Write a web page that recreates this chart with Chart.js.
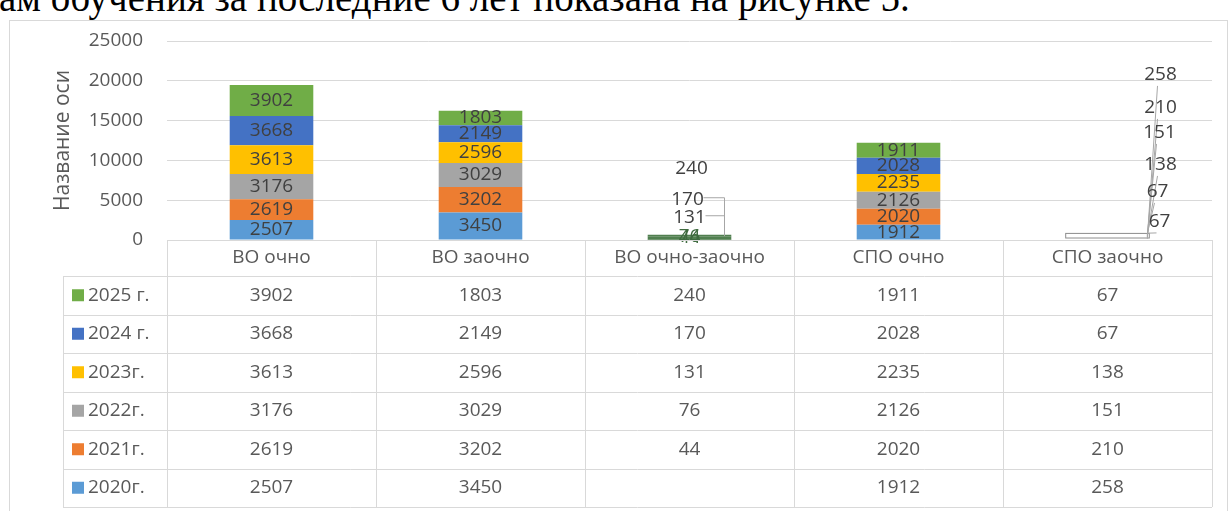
<!DOCTYPE html>
<html lang="ru">
<head>
<meta charset="utf-8">
<title>Контингент по формам обучения</title>
<script src="https://cdn.jsdelivr.net/npm/chart.js@4.4.1/dist/chart.umd.min.js"></script>
<style>
  html, body { margin: 0; padding: 0; background: #fff; }
  body { width: 1232px; height: 511px; position: relative; overflow: hidden; }
  .caption { position: absolute; left: -1px; top: -22px; line-height: 39px; font-family: "Liberation Serif", "Times New Roman", serif; font-size: 39px; color: #000; white-space: nowrap; }
  .frame { position: absolute; left: 9px; top: 20px; width: 1219px; height: 520px; border: 1px solid #d9d9d9; box-sizing: border-box; }
  #wrap { position: absolute; left: 0; top: 0; width: 1232px; height: 511px; }
</style>
</head>
<body>
<div class="caption">ам обучения за последние 6 лет показана на рисунке 5.</div>
<div class="frame"></div>
<div id="wrap"><canvas id="chart"></canvas></div>
<script>
const categories = ['ВО очно', 'ВО заочно', 'ВО очно-заочно', 'СПО очно', 'СПО заочно'];
const years = ['2020г.', '2021г.', '2022г.', '2023г.', '2024 г.', '2025 г.'];
const v2020 = [2507, 3450, null, 1912, 258];
const v2021 = [2619, 3202, 44, 2020, 210];
const v2022 = [3176, 3029, 76, 2126, 151];
const v2023 = [3613, 2596, 131, 2235, 138];
const v2024 = [3668, 2149, 170, 2028, 67];
const v2025 = [3902, 1803, 240, 1911, 67];
const yearValues = [v2020, v2021, v2022, v2023, v2024, v2025];
const yMax = 25000;
const yStep = 5000;

const seriesColors = ['#5B9BD5', '#ED7D31', '#A5A5A5', '#FFC000', '#4472C4', '#70AD47'];
const textColor = '#595959';
const lineColor = '#d9d9d9';
const FONT = '"Open Sans", "Liberation Sans", sans-serif';

// labels of the two thin columns were dragged out in the original, offsets from the stack top
const calloutSpots = {
    2: [null, [0, 3, '#3f6b3f'], [0, 2, '#3f6b3f'], [0, -17], [-2, -35], [2, -66]],
    4: [[53, -158], [53, -125], [52, -100], [53, -68], [50, -41], [52, -11]]
};

function barColor(di) {
    return (c) => {
        if (c.dataIndex === 2) return '#507f4f';
        if (c.dataIndex === 4) return '#ffffff';
        return seriesColors[di];
    };
}

const datasets = years.map((y, di) => ({
    label: y,
    data: yearValues[di],
    backgroundColor: barColor(di),
    borderWidth: 0,
    barPercentage: 0.4,
    categoryPercentage: 1
}));

const segmentLabels = {
    id: 'segmentLabels',
    afterDatasetsDraw(chart) {
        const ctx = chart.ctx;
        const n = chart.data.datasets.length;
        ctx.save();
        ctx.font = '19px ' + FONT;
        ctx.textAlign = 'center';
        ctx.textBaseline = 'middle';

        // outline of the white thin column
        const first = chart.getDatasetMeta(0).data[4];
        const last = chart.getDatasetMeta(n - 1).data[4];
        ctx.strokeStyle = '#8c8c8c';
        ctx.lineWidth = 1;
        ctx.strokeRect(first.x - first.width / 2, last.y + 0.5, first.width, first.base - last.y - 2);

        chart.data.datasets.forEach((ds, di) => {
            const meta = chart.getDatasetMeta(di);
            meta.data.forEach((bar, i) => {
                const v = ds.data[i];
                if (v == null) return;
                let x = bar.x;
                let y = (bar.y + bar.base) / 2;
                let color = '#404040';
                const spots = calloutSpots[i];
                if (spots && spots[di]) {
                    const top = chart.getDatasetMeta(n - 1).data[i].y;
                    x = bar.x + spots[di][0];
                    y = top + spots[di][1];
                    if (spots[di][2]) color = spots[di][2];
                    ctx.strokeStyle = '#a6a6a6';
                    ctx.lineWidth = 1;
                    ctx.beginPath();
                    if (i === 4) {
                        ctx.moveTo(bar.x + bar.width / 2 - 2, (bar.y + bar.base) / 2);
                        ctx.lineTo(x - 3, y + 11);
                        ctx.stroke();
                    } else if (di === 3 || di === 4) {
                        ctx.moveTo(x + 16, y - 2);
                        ctx.lineTo(x + 37 - (di === 3 ? 2 : 0), y - 2);
                        ctx.lineTo(x + 37 - (di === 3 ? 2 : 0), bar.y - 2);
                        ctx.stroke();
                    }
                }
                ctx.fillStyle = color;
                ctx.fillText(String(v), x, y);
            });
        });
        ctx.restore();
    }
};

const dataTable = {
    id: 'dataTable',
    afterDraw(chart) {
        const ctx = chart.ctx;
        const area = chart.chartArea;
        const xs = chart.scales.x;
        const colW = (area.right - area.left) / categories.length;
        const legendLeft = 63;
        const headH = 36;
        const rowH = 38.5;
        const y0 = area.bottom;
        const rowsTop = y0 + headH;
        const bottom = rowsTop + rowH * years.length;

        ctx.save();
        ctx.strokeStyle = lineColor;
        ctx.lineWidth = 1;
        ctx.beginPath();
        ctx.moveTo(area.left, y0 + 0.5);
        ctx.lineTo(area.right, y0 + 0.5);
        for (let r = 0; r <= years.length; r++) {
            const yy = Math.round(rowsTop + r * rowH) + 0.5;
            ctx.moveTo(legendLeft, yy);
            ctx.lineTo(area.right, yy);
        }
        for (let c = 0; c <= categories.length; c++) {
            const xx = Math.round(area.left + c * colW) + 0.5;
            ctx.moveTo(xx, y0);
            ctx.lineTo(xx, bottom);
        }
        ctx.moveTo(legendLeft + 0.5, rowsTop);
        ctx.lineTo(legendLeft + 0.5, bottom);
        ctx.stroke();

        ctx.font = '19px ' + FONT;
        ctx.fillStyle = textColor;
        ctx.textBaseline = 'middle';
        ctx.textAlign = 'center';
        categories.forEach((cat, i) => {
            ctx.fillText(cat, xs.getPixelForValue(i), y0 + headH / 2);
        });

        // rows go top to bottom from the newest year
        const order = years.map((y, i) => i).reverse();
        order.forEach((di, r) => {
            const cy = rowsTop + r * rowH + rowH / 2;
            ctx.fillStyle = seriesColors[di];
            ctx.fillRect(legendLeft + 9, cy - 6, 12, 12);
            ctx.fillStyle = textColor;
            ctx.textAlign = 'left';
            ctx.fillText(years[di], legendLeft + 25, cy);
            ctx.textAlign = 'center';
            yearValues[di].forEach((v, i) => {
                if (v == null) return;
                ctx.fillText(String(v), xs.getPixelForValue(i), cy);
            });
        });
        ctx.restore();
    }
};

new Chart(document.getElementById('chart'), {
    type: 'bar',
    data: { labels: categories, datasets },
    plugins: [segmentLabels, dataTable],
    options: {
        responsive: true,
        maintainAspectRatio: false,
        animation: false,
        layout: { padding: { left: 46, top: 41, right: 20, bottom: 271 } },
        plugins: {
            legend: { display: false },
            tooltip: { enabled: false }
        },
        scales: {
            x: { stacked: true, display: false },
            y: {
                stacked: true,
                min: 0,
                max: yMax,
                afterFit(scale) { scale.width = 121; },
                ticks: {
                    stepSize: yStep,
                    padding: 24,
                    color: textColor,
                    font: { family: FONT, size: 19 },
                    callback: (v) => String(v)
                },
                grid: { color: lineColor, drawTicks: false },
                border: { display: false },
                title: { display: true, text: 'Название оси', color: textColor, font: { family: FONT, size: 21 } }
            }
        }
    }
});
</script>
</body>
</html>
